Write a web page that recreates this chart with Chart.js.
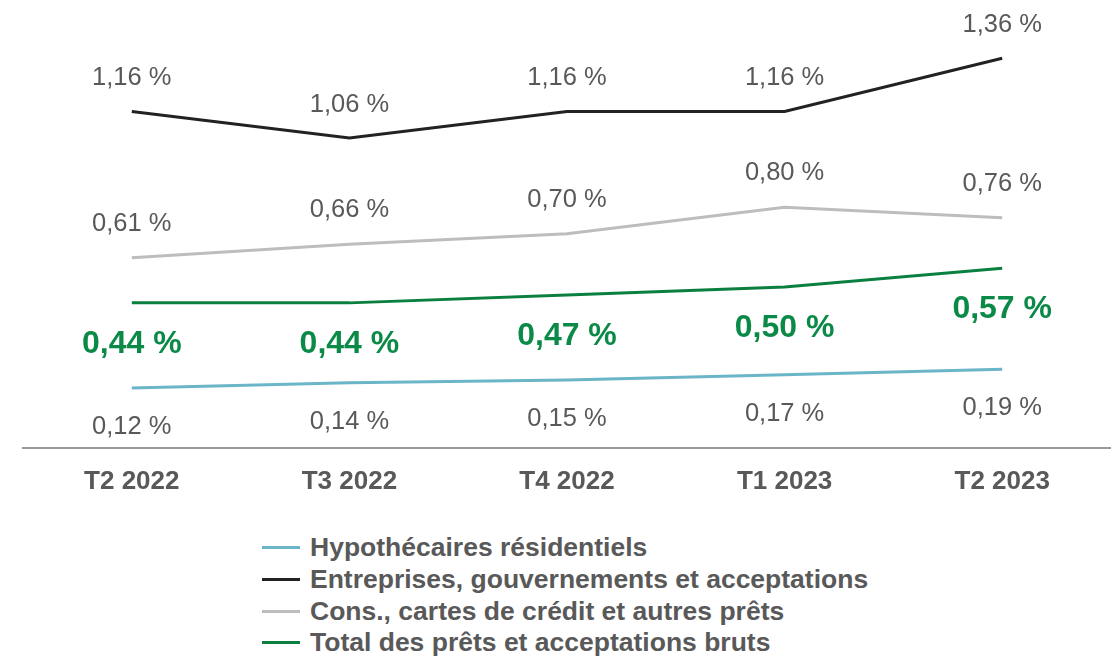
<!DOCTYPE html>
<html><head><meta charset="utf-8">
<script src="https://cdn.jsdelivr.net/npm/chart.js@4/dist/chart.umd.min.js"></script>
<style>
html,body{margin:0;padding:0;background:#fff;width:1111px;height:658px;overflow:hidden;font-family:"Liberation Sans",Arial,sans-serif;}
#wrap{position:absolute;left:0;top:0;width:1111px;height:521px;}
#legend{position:absolute;left:262px;top:532px;}
.li{display:flex;align-items:center;height:31.7px;font-weight:bold;font-size:26.5px;color:#595959;white-space:nowrap;}
.sw{width:38px;height:3px;margin-right:10px;flex:none;}
</style></head><body>
<div id="wrap"><canvas id="c"></canvas></div>
<div id="legend"></div>
<script>
const categories = ["T2 2022","T3 2022","T4 2022","T1 2023","T2 2023"];
const hypo = [0.12,0.14,0.15,0.17,0.19];
const entreprises = [1.16,1.06,1.16,1.16,1.36];
const cons = [0.61,0.66,0.70,0.80,0.76];
const total = [0.44,0.44,0.47,0.50,0.57];
const names = ["Hypothécaires résidentiels","Entreprises, gouvernements et acceptations","Cons., cartes de crédit et autres prêts","Total des prêts et acceptations bruts"];
const colors = ["#6BB5C8","#222222","#BDBDBD","#0B7F3F"];

const fmt = v => v.toFixed(2).replace('.', ',') + ' %';
const labelCfg = [
  {dy: 39, font: '25.5px "Liberation Sans", Arial, sans-serif', color: '#595959'},
  {dy: -33, font: '25.5px "Liberation Sans", Arial, sans-serif', color: '#595959'},
  {dy: -34, font: '25.5px "Liberation Sans", Arial, sans-serif', color: '#595959'},
  {dy: 41, font: 'bold 32px "Liberation Sans", Arial, sans-serif', color: '#0B8A47'}
];
const labelPlugin = {
  id: 'vals',
  afterDatasetsDraw(chart){
    const ctx = chart.ctx;
    chart.data.datasets.forEach((ds, i) => {
      const meta = chart.getDatasetMeta(i);
      const cfg = labelCfg[i];
      ctx.save();
      ctx.font = cfg.font; ctx.fillStyle = cfg.color;
      ctx.textAlign = 'center'; ctx.textBaseline = 'middle';
      meta.data.forEach((pt, j) => ctx.fillText(fmt(ds.data[j]), pt.x, pt.y + cfg.dy));
      ctx.restore();
    });
  }
};

const seriesData = [hypo, entreprises, cons, total];
const chart = new Chart(document.getElementById('c'), {
  type: 'line',
  data: {
    labels: categories,
    datasets: seriesData.map((d, i) => ({
      label: names[i], data: d, borderColor: colors[i], backgroundColor: colors[i],
      borderWidth: 3, pointRadius: 0, tension: 0, fill: false
    }))
  },
  options: {
    responsive: true, maintainAspectRatio: false, animation: false,
    layout: {padding: {top: 21, left: 23, right: 0, bottom: 6}},
    plugins: {legend: {display: false}, tooltip: {enabled: false}},
    scales: {
      x: {
        offset: true,
        grid: {display: false, drawTicks: false},
        border: {display: true, color: '#999999', width: 2},
        ticks: {padding: 18, color: '#595959', font: {family: '"Liberation Sans", Arial, sans-serif', size: 26, weight: 'bold'}}
      },
      y: {display: false, min: -0.105, max: 1.5}
    }
  },
  plugins: [labelPlugin]
});

const lg = document.getElementById('legend');
names.forEach((n, i) => {
  const d = document.createElement('div'); d.className = 'li';
  d.innerHTML = '<span class="sw" style="background:' + colors[i] + '"></span>' + n;
  lg.appendChild(d);
});
</script>
</body></html>
